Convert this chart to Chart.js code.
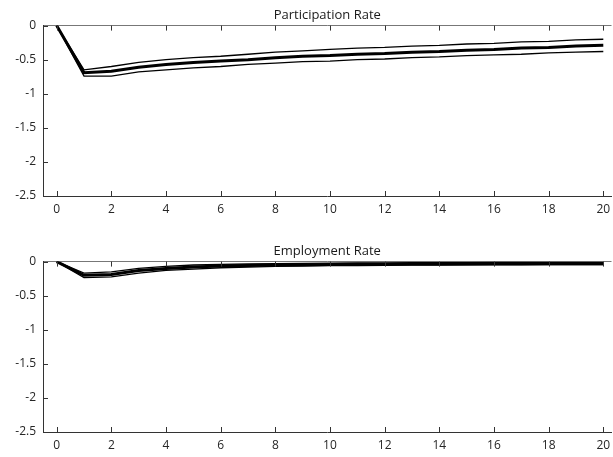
<!DOCTYPE html>
<html>
<head>
<meta charset="utf-8">
<script src="https://cdn.jsdelivr.net/npm/chart.js@4.4.1/dist/chart.umd.min.js"></script>
<style>
  body { margin: 0; background: #fff; }
  .box { position: absolute; left: 0; width: 613px; height: 226px; }
</style>
</head>
<body>
<div class="box" style="top:0"><canvas id="partCanvas"></canvas></div>
<div class="box" style="top:236px"><canvas id="empCanvas"></canvas></div>
<script>
const periods = [0,1,2,3,4,5,6,7,8,9,10,11,12,13,14,15,16,17,18,19,20];
const xTicks = [0,2,4,6,8,10,12,14,16,18,20];
const yTicks = [0,-0.5,-1,-1.5,-2,-2.5];

// participation rate: median and bands
const partMedian = [0,-0.69,-0.67,-0.61,-0.57,-0.54,-0.52,-0.50,-0.47,-0.45,-0.44,-0.42,-0.41,-0.39,-0.38,-0.36,-0.35,-0.33,-0.32,-0.30,-0.29];
const partUpper = [0,-0.65,-0.60,-0.54,-0.50,-0.47,-0.45,-0.42,-0.39,-0.37,-0.35,-0.33,-0.32,-0.30,-0.29,-0.27,-0.26,-0.24,-0.23,-0.21,-0.20];
const partLower = [0,-0.74,-0.74,-0.68,-0.65,-0.62,-0.60,-0.57,-0.55,-0.53,-0.52,-0.50,-0.49,-0.47,-0.46,-0.44,-0.43,-0.42,-0.40,-0.39,-0.38];

// employment rate
const empMedian = [0,-0.20,-0.19,-0.13,-0.10,-0.08,-0.065,-0.058,-0.05,-0.045,-0.042,-0.04,-0.038,-0.036,-0.035,-0.034,-0.033,-0.032,-0.031,-0.03,-0.03];
const empUpper = [0,-0.17,-0.15,-0.10,-0.07,-0.05,-0.04,-0.035,-0.03,-0.025,-0.022,-0.02,-0.018,-0.016,-0.015,-0.014,-0.013,-0.012,-0.011,-0.01,-0.01];
const empLower = [0,-0.235,-0.225,-0.17,-0.13,-0.11,-0.09,-0.08,-0.07,-0.065,-0.06,-0.057,-0.054,-0.052,-0.05,-0.048,-0.047,-0.046,-0.045,-0.044,-0.043];

const fontFam = "'Open Sans', sans-serif";

// MATLAB-like ticks pointing into the plot
const innerTicks = {
    id: 'innerTicks',
    afterDraw(chart) {
        const ctx = chart.ctx;
        const a = chart.chartArea;
        const xs = chart.scales.x, ys = chart.scales.y;
        ctx.save();
        ctx.strokeStyle = '#333';
        ctx.lineWidth = 1;
        ctx.beginPath();
        for (let v of xTicks) {
            const px = Math.round(xs.getPixelForValue(v)) + 0.5;
            ctx.moveTo(px, a.bottom); ctx.lineTo(px, a.bottom - 5);
            ctx.moveTo(px, a.top); ctx.lineTo(px, a.top + 5);
        }
        for (let v of yTicks) {
            const py = Math.round(ys.getPixelForValue(v)) + 0.5;
            ctx.moveTo(a.left, py); ctx.lineTo(a.left + 5, py);
        }
        ctx.stroke();
        ctx.restore();
    }
};

function series(vals) {
    return periods.map((p, i) => ({x: p, y: vals[i]}));
}

function makeChart(id, title, med, up, lo) {
    return new Chart(document.getElementById(id), {
        type: 'line',
        data: {
            datasets: [
                {data: series(up), borderColor: '#000', borderWidth: 1.3},
                {data: series(lo), borderColor: '#000', borderWidth: 1.3},
                {data: series(med), borderColor: '#000', borderWidth: 3}
            ]
        },
        options: {
            responsive: true,
            maintainAspectRatio: false,
            animation: false,
            events: [],
            layout: {padding: 0},
            elements: {point: {radius: 0}, line: {tension: 0}},
            plugins: {
                legend: {display: false},
                tooltip: {enabled: false},
                title: {
                    display: true,
                    text: title,
                    fullSize: false,
                    color: '#1a1a1a',
                    font: {family: fontFam, size: 13, weight: 'normal'},
                    padding: {top: 7, bottom: 3}
                }
            },
            scales: {
                x: {
                    type: 'linear',
                    min: -0.5,
                    max: 20.3,
                    afterBuildTicks: s => { s.ticks = xTicks.map(v => ({value: v})); },
                    afterFit: s => { s.height = 30; s.paddingLeft = 0; s.paddingRight = 0; },
                    grid: {display: false, drawTicks: false},
                    border: {display: true, color: '#333', width: 1},
                    ticks: {color: '#262626', padding: 6, maxRotation: 0,
                            font: {family: fontFam, size: 12}}
                },
                y: {
                    min: -2.5,
                    max: 0,
                    afterBuildTicks: s => { s.ticks = yTicks.map(v => ({value: v})); },
                    afterFit: s => { s.width = 43; },
                    grid: {
                        drawTicks: false,
                        color: c => c.tick && c.tick.value === 0 ? '#777' : 'transparent',
                        lineWidth: 1
                    },
                    border: {display: true, color: '#333', width: 1},
                    ticks: {color: '#262626', padding: 7,
                            font: {family: fontFam, size: 12},
                            callback: v => String(v)}
                }
            }
        },
        plugins: [innerTicks]
    });
}

const partChart = makeChart('partCanvas', 'Participation Rate', partMedian, partUpper, partLower);
const empChart = makeChart('empCanvas', 'Employment Rate', empMedian, empUpper, empLower);
// dotted zero line
for (let c of [partChart, empChart]) {
    c.options.scales.y.grid.borderDash = [1, 1];
    c.update();
}
</script>
</body>
</html>
